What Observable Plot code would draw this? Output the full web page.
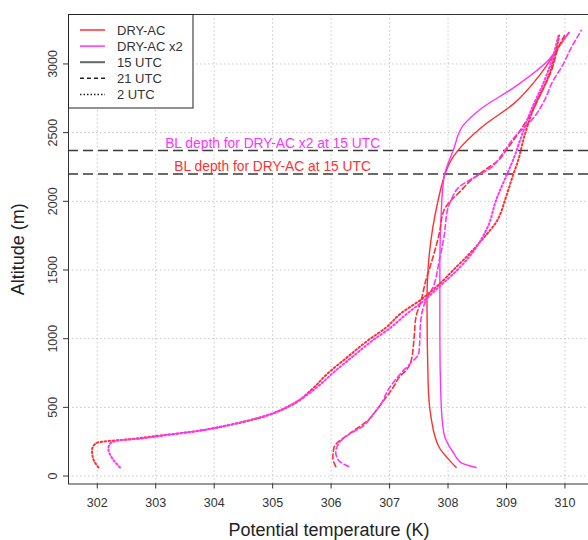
<!DOCTYPE html>
<html><head><meta charset="utf-8">
<script src="https://cdn.jsdelivr.net/npm/d3@7"></script>
<script src="https://cdn.jsdelivr.net/npm/@observablehq/plot@0.6"></script>
<style>
body{margin:0;background:#fff;}
#wrap{position:relative;width:588px;height:540px;overflow:hidden;font-family:"Liberation Sans",Arial,sans-serif;}
#legend{position:absolute;left:0;top:0;}
</style></head><body><div id="wrap"></div>
<script>
// ---- data ----
const runs = ["DRY-AC", "DRY-AC x2"];
const times = ["15 UTC", "21 UTC", "2 UTC"];
const xTicks = [302, 303, 304, 305, 306, 307, 308, 309, 310];
const yTicks = [0, 500, 1000, 1500, 2000, 2500, 3000];

// DRY-AC, 15 UTC
const dry15Theta = [308.14, 308.0, 307.85, 307.71, 307.66, 307.64, 307.66, 307.74, 307.83, 307.93, 308.05, 308.17, 308.57, 309.13, 309.59, 309.89, 310.07];
const dry15Alt   = [62, 127, 208, 426, 674, 1278, 1518, 1810, 2006, 2174, 2298, 2371, 2538, 2713, 2931, 3120, 3229];
// DRY-AC x2, 15 UTC
const dry2x15Theta = [308.48, 308.22, 308.10, 307.93, 307.88, 307.86, 307.86, 307.88, 307.93, 308.02, 308.09, 308.26, 308.57, 309.13, 309.71, 309.94, 310.07];
const dry2x15Alt   = [62, 98, 164, 309, 550, 1038, 1518, 1882, 2174, 2298, 2371, 2553, 2676, 2829, 3025, 3157, 3229];
// DRY-AC, 21 UTC
const dry21Theta = [306.08, 306.03, 306.05, 306.11, 306.22, 306.39, 306.56, 306.68, 306.77, 306.90, 307.06, 307.19, 307.28, 307.37, 307.42, 307.45, 307.54, 307.62, 307.71, 307.85, 307.93, 308.05, 308.19, 308.39, 308.62, 308.86, 308.99, 309.20, 309.42, 309.59, 309.77, 309.89, 309.99];
const dry21Alt   = [69, 135, 208, 244, 280, 331, 382, 426, 477, 550, 644, 732, 768, 841, 1009, 1154, 1278, 1424, 1547, 1766, 1933, 2006, 2064, 2152, 2225, 2298, 2370, 2494, 2640, 2785, 2953, 3120, 3207];
// DRY-AC x2, 21 UTC
const dry2x21Theta = [306.30, 306.13, 306.08, 306.13, 306.30, 306.51, 306.73, 306.85, 306.97, 307.19, 307.37, 307.50, 307.54, 307.62, 307.74, 307.85, 307.93, 308.00, 308.05, 308.22, 308.45, 308.74, 308.91, 309.13, 309.47, 309.65, 309.80, 309.94, 310.11, 310.28];
const dry2x21Alt   = [69, 113, 171, 237, 302, 353, 455, 521, 623, 746, 826, 892, 1154, 1278, 1373, 1569, 1737, 1955, 2006, 2115, 2174, 2247, 2334, 2465, 2611, 2735, 2881, 2975, 3120, 3244];
// DRY-AC, 2 UTC
const dry02Theta = [302.02, 301.93, 301.91, 301.97, 302.10, 302.51, 303.08, 303.65, 304.23, 304.74, 305.31, 305.65, 305.94, 306.29, 306.63, 306.94, 307.19, 307.54, 307.88, 308.10, 308.34, 308.57, 308.82, 309.00, 309.11, 309.20, 309.30, 309.47, 309.71, 309.85, 309.90];
const dry02Alt   = [62, 127, 186, 237, 251, 266, 295, 324, 368, 419, 513, 623, 746, 870, 987, 1081, 1183, 1285, 1409, 1504, 1606, 1715, 1846, 2042, 2188, 2298, 2465, 2683, 2902, 3098, 3207];
// DRY-AC x2, 2 UTC
const dry2x02Theta = [302.39, 302.26, 302.19, 302.22, 302.36, 302.74, 303.25, 303.77, 304.28, 304.83, 305.41, 305.75, 306.06, 306.39, 306.71, 307.02, 307.28, 307.59, 307.91, 308.15, 308.34, 308.48, 308.69, 308.82, 309.00, 309.11, 309.25, 309.42, 309.65, 309.80, 309.89];
const dry2x02Alt   = [62, 127, 200, 237, 259, 273, 302, 331, 375, 433, 542, 644, 761, 877, 987, 1081, 1176, 1278, 1402, 1496, 1584, 1664, 1824, 2006, 2188, 2298, 2465, 2662, 2880, 3062, 3207];

// boundary-layer depths at 15 UTC
const blRuns = ["DRY-AC x2", "DRY-AC"];
const blDepths = [2370, 2199];
const blLabels = ["BL depth for DRY-AC x2 at 15 UTC", "BL depth for DRY-AC at 15 UTC"];

// ---- build tables ----
const profiles = [
  ["DRY-AC", "15 UTC", dry15Theta, dry15Alt],
  ["DRY-AC x2", "15 UTC", dry2x15Theta, dry2x15Alt],
  ["DRY-AC", "21 UTC", dry21Theta, dry21Alt],
  ["DRY-AC x2", "21 UTC", dry2x21Theta, dry2x21Alt],
  ["DRY-AC", "2 UTC", dry02Theta, dry02Alt],
  ["DRY-AC x2", "2 UTC", dry2x02Theta, dry2x02Alt]
];
const rows = profiles.flatMap(([run, time, th, al]) => th.map((t, i) => ({run, time, theta: t, alt: al[i]})));
const blRows = blDepths.map((d, i) => ({run: blRuns[i], alt: d, label: blLabels[i]}));

const runColors = ["#ff3030", "#ff33ff"];
const dashFor = {"15 UTC": null, "21 UTC": "5,3", "2 UTC": "1.6,2.4"};
const widthFor = {"15 UTC": 1.4, "21 UTC": 1.6, "2 UTC": 2};
const FONT = '"Liberation Sans", Arial, sans-serif';

const lineMarks = times.map(t => Plot.line(rows.filter(r => r.time === t), {
  x: "theta", y: "alt", z: "run", stroke: "run", curve: "monotone-y",
  strokeWidth: widthFor[t], strokeDasharray: dashFor[t] || undefined
}));

const chart = Plot.plot({
  width: 588, height: 540,
  marginLeft: 68, marginTop: 14, marginBottom: 56.5, marginRight: -1,
  style: {fontFamily: FONT, color: "#333", background: "#fff"},
  x: {domain: [301.508, 310.42]},
  y: {domain: [-58, 3360]},
  color: {domain: runs, range: runColors},
  marks: [
    Plot.gridX(xTicks, {stroke: "#c8c8c8", strokeOpacity: 1, strokeDasharray: "1.5,2.5"}),
    Plot.gridY(yTicks, {stroke: "#c8c8c8", strokeOpacity: 1, strokeDasharray: "1.5,2.5"}),
    Plot.ruleY(blRows, {y: "alt", stroke: "#3a3a3a", strokeWidth: 1.5, strokeDasharray: "10,5"}),
    Plot.text(blRows, {x: () => 305, y: "alt", text: "label", fill: "run", dy: -7, fontSize: 13.8}),
    ...lineMarks,
    Plot.axisX({ticks: xTicks, tickSize: 5, tickPadding: 9, fontSize: 12.5, label: null, stroke: "#333"}),
    Plot.axisY({ticks: yTicks, tickSize: 5, text: null, label: null, stroke: "#333"}),
    Plot.text(yTicks, {y: d => d, text: d => String(d), frameAnchor: "left", textAnchor: "middle", dx: -16, rotate: -90, fontSize: 12.5, fill: "#333"}),
    Plot.text(["Potential temperature (K)"], {frameAnchor: "bottom", dy: 52, fontSize: 18, fill: "#222"}),
    Plot.text(["Altitude (m)"], {frameAnchor: "left", textAnchor: "middle", dx: -50, rotate: -90, fontSize: 18, fill: "#222"}),
    Plot.frame({stroke: "#333"})
  ]
});
const wrap = document.getElementById("wrap");
wrap.appendChild(chart);

// ---- legend overlay ----
const legendItems = [
  {label: "DRY-AC", color: runColors[0], dash: null, w: 1.5},
  {label: "DRY-AC x2", color: runColors[1], dash: null, w: 1.5},
  {label: "15 UTC", color: "#666", dash: null, w: 2},
  {label: "21 UTC", color: "#222", dash: "4,3", w: 1.5},
  {label: "2 UTC", color: "#222", dash: "1.5,2", w: 1.5}
];
const svg = d3.select(wrap).append("svg").attr("id", "legend").attr("width", 588).attr("height", 540)
  .style("pointer-events", "none");
svg.append("rect").attr("x", 68.5).attr("y", 14.5).attr("width", 124.5).attr("height", 93.5)
  .attr("fill", "#fff").attr("stroke", "#222").attr("stroke-width", 1);
const g = svg.selectAll("g.item").data(legendItems).join("g").attr("class", "item")
  .attr("transform", (d, i) => `translate(0,${30 + i * 16.1})`);
g.append("line").attr("x1", 80).attr("x2", 105).attr("y1", 0).attr("y2", 0)
  .attr("stroke", d => d.color).attr("stroke-width", d => d.w).attr("stroke-dasharray", d => d.dash);
g.append("text").attr("x", 117).attr("y", 0).attr("dy", "0.35em").attr("font-size", 13)
  .attr("fill", "#333").attr("font-family", FONT).text(d => d.label);
</script></body></html>
